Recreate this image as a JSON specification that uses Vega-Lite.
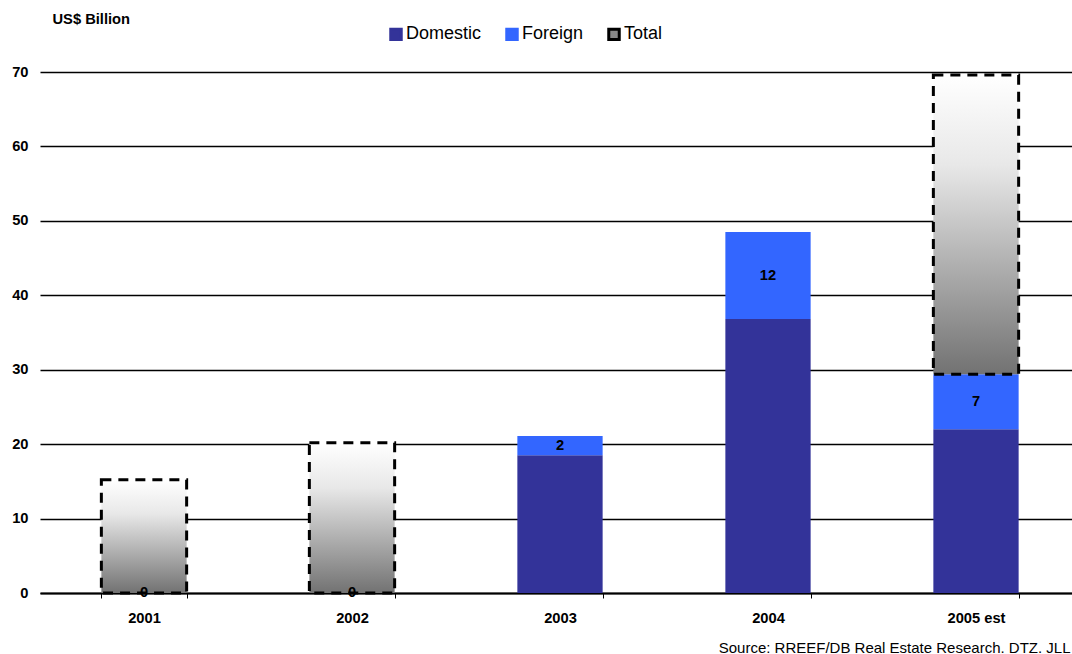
{
  "$schema": "https://vega.github.io/schema/vega-lite/v6.json",
  "width": 1040,
  "height": 521,
  "autosize": {"type": "none"},
  "padding": {"left": 40, "top": 72, "right": 0, "bottom": 61},
  "background": "white",
  "config": {
    "font": "Liberation Sans",
    "view": {"stroke": null}
  },
  "data": {
    "values": [
      {"year": "2001", "series": "Domestic", "value": 0, "label": ""},
      {"year": "2001", "series": "Foreign", "value": 0, "label": "0"},
      {"year": "2001", "series": "Total", "value": 15.2, "label": ""},
      {"year": "2002", "series": "Domestic", "value": 0, "label": ""},
      {"year": "2002", "series": "Foreign", "value": 0, "label": "0"},
      {"year": "2002", "series": "Total", "value": 20.2, "label": ""},
      {"year": "2003", "series": "Domestic", "value": 18.5, "label": ""},
      {"year": "2003", "series": "Foreign", "value": 2.6, "label": "2"},
      {"year": "2003", "series": "Total", "value": 0, "label": ""},
      {"year": "2004", "series": "Domestic", "value": 36.8, "label": ""},
      {"year": "2004", "series": "Foreign", "value": 11.7, "label": "12"},
      {"year": "2004", "series": "Total", "value": 0, "label": ""},
      {"year": "2005 est", "series": "Domestic", "value": 22.0, "label": ""},
      {"year": "2005 est", "series": "Foreign", "value": 7.4, "label": "7"},
      {"year": "2005 est", "series": "Total", "value": 40.2, "label": ""}
    ]
  },
  "transform": [
    {"stack": "value", "groupby": ["year"], "sort": [{"field": "series", "order": "ascending"}], "as": ["v0", "v1"]}
  ],
  "encoding": {
    "x": {
      "field": "year",
      "type": "nominal",
      "sort": null,
      "scale": {"paddingInner": 0.59, "paddingOuter": 0.295},
      "axis": {
        "title": "Source: RREEF/DB Real Estate Research. DTZ. JLL",
        "titleFontSize": 15,
        "titleFontWeight": "normal",
        "titleColor": "#000000",
        "titleAlign": "right",
        "titleAnchor": "end",
        "titleX": 1030,
        "titleY": 62,
        "titleBaseline": "bottom",
        "labelAngle": 0,
        "labelFontSize": 14.7,
        "labelFontWeight": "bold",
        "labelColor": "#000000",
        "labelPadding": 12,
        "labelBaseline": "top",
        "tickBand": "extent",
        "tickColor": "#000000",
        "tickSize": 5,
        "tickWidth": 1,
        "domainColor": "#000000",
        "domainWidth": 2,
        "grid": false
      }
    }
  },
  "layer": [
    {
      "transform": [{"filter": "datum.series !== 'Total'"}],
      "mark": {"type": "bar"},
      "encoding": {
        "y": {
          "field": "v0",
          "type": "quantitative",
          "scale": {"domain": [0, 70]},
          "axis": {
            "values": [0, 10, 20, 30, 40, 50, 60, 70],
            "title": "US$ Billion",
            "titleAngle": 0,
            "titleAlign": "left",
            "titleBaseline": "middle",
            "titleX": 12,
            "titleY": -53,
            "titleFontSize": 14.7,
            "titleFontWeight": "bold",
            "titleColor": "#000000",
            "labelFontSize": 14.7,
            "labelFontWeight": "bold",
            "labelColor": "#000000",
            "labelPadding": 12,
            "ticks": false,
            "domain": false,
            "grid": true,
            "gridColor": "#000000",
            "gridWidth": 1.5,
            "gridOpacity": 1
          }
        },
        "y2": {"field": "v1"},
        "color": {
          "field": "series",
          "type": "nominal",
          "scale": {"domain": ["Domestic", "Foreign", "Total"], "range": ["#333399", "#3366FF", "#888888"]},
          "legend": {
            "title": null,
            "orient": "none",
            "direction": "horizontal",
            "legendX": 347,
            "legendY": -47,
            "padding": 0,
            "symbolType": "square",
            "symbolSize": 110,
            "symbolStrokeWidth": 3,
            "symbolOpacity": 1,
            "labelFontSize": 18,
            "labelColor": "#000000",
            "labelOffset": 1,
            "columnPadding": 18,
            "encode": {
              "symbols": {
                "update": {
                  "stroke": {"signal": "datum.value === 'Total' ? '#000000' : (datum.value === 'Domestic' ? '#333399' : '#3366FF')"},
                  "strokeWidth": {"value": 3}
                }
              }
            }
          }
        }
      }
    },
    {
      "transform": [{"filter": "datum.series === 'Total' && datum.value > 0"}],
      "mark": {
        "type": "bar",
        "fill": {
          "gradient": "linear",
          "x1": 0, "y1": 0, "x2": 0, "y2": 1,
          "stops": [
            {"offset": 0, "color": "#ffffff"},
            {"offset": 0.3, "color": "#e8e8e8"},
            {"offset": 1, "color": "#727272"}
          ]
        },
        "stroke": "#000000",
        "strokeWidth": 3,
        "strokeDash": [10, 7]
      },
      "encoding": {
        "y": {"field": "v0", "type": "quantitative"},
        "y2": {"field": "v1"}
      }
    },
    {
      "transform": [
        {"filter": "datum.label !== ''"},
        {"calculate": "(datum.v0 + datum.v1) / 2", "as": "mid"}
      ],
      "mark": {"type": "text", "fontSize": 14.7, "fontWeight": "bold", "color": "#000000", "baseline": "middle", "align": "center"},
      "encoding": {
        "y": {"field": "mid", "type": "quantitative"},
        "text": {"field": "label"}
      }
    }
  ]
}
